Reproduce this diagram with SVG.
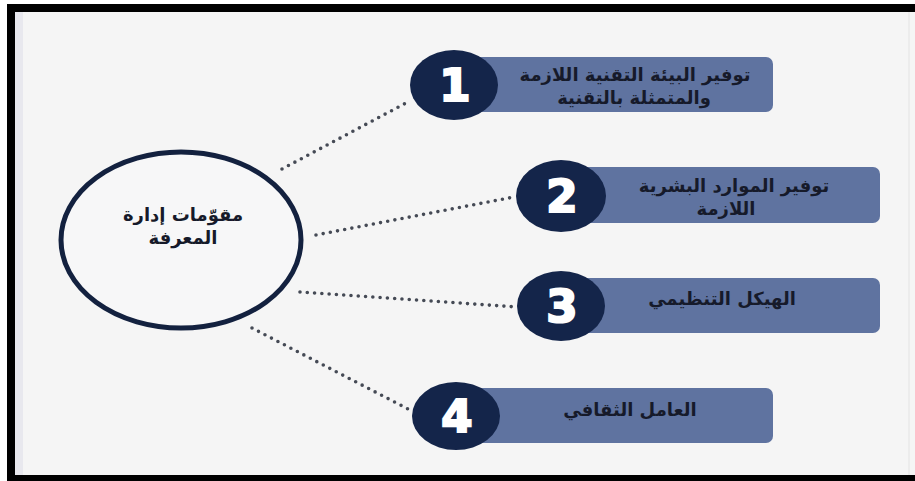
<svg xmlns="http://www.w3.org/2000/svg" width="915" height="481" viewBox="0 0 915 481">
<style>
.badge{fill:#14254a}
.bar{fill:#5f73a0}
.num{font-family:"DejaVu Sans","Liberation Sans",sans-serif;font-weight:900;font-size:45px;fill:#ffffff;stroke:#ffffff;stroke-width:2.2;text-anchor:middle}
.lbl{font-family:"DejaVu Sans",sans-serif;font-weight:bold;font-size:18px;fill:#161a2a;text-anchor:middle;direction:rtl}
.dot{fill:none;stroke:#454a55;stroke-width:3.6;stroke-linecap:round;stroke-dasharray:0 7.3}
</style>
<rect x="0" y="0" width="915" height="481" fill="#ffffff"/>
<rect x="7" y="4" width="908" height="477" fill="#000000"/>
<rect x="15" y="12" width="900" height="463" fill="#f5f5f5"/>
<rect x="15" y="12" width="8" height="463" fill="#e8e8ee"/>
<rect x="908" y="12" width="2" height="463" fill="#ececec"/>
<g id="connectors">
<line class="dot" x1="282" y1="169" x2="406" y2="103"/>
<line class="dot" x1="316" y1="235" x2="514" y2="197"/>
<line class="dot" x1="300" y1="292" x2="517" y2="307"/>
<line class="dot" x1="252" y1="328" x2="410" y2="410"/>
</g>
<g id="center">
<ellipse cx="181" cy="240" rx="120" ry="88" fill="#f7f7f8" stroke="#13213f" stroke-width="5"/>
<text class="lbl" x="183" y="221">مقوّمات إدارة</text>
<text class="lbl" x="183" y="244">المعرفة</text>
</g>
<g id="item1">
<rect class="bar" x="470" y="57" width="303" height="55" rx="7"/>
<ellipse class="badge" cx="454" cy="85" rx="44" ry="35"/>
<text class="num" x="455" y="101">1</text>
<text class="lbl" x="635" y="81">توفير البيئة التقنية اللازمة</text>
<text class="lbl" x="634" y="104">والمتمثلة بالتقنية</text>
</g>
<g id="item2">
<rect class="bar" x="573" y="167" width="307" height="56" rx="7"/>
<ellipse class="badge" cx="561" cy="196" rx="45" ry="36"/>
<text class="num" x="562" y="212">2</text>
<text class="lbl" x="734" y="192">توفير الموارد البشرية</text>
<text class="lbl" x="726" y="215">اللازمة</text>
</g>
<g id="item3">
<rect class="bar" x="573" y="278" width="307" height="55" rx="7"/>
<ellipse class="badge" cx="561" cy="306" rx="44" ry="35"/>
<text class="num" x="562" y="322">3</text>
<text class="lbl" x="722" y="305">الهيكل التنظيمي</text>
</g>
<g id="item4">
<rect class="bar" x="470" y="388" width="303" height="55" rx="7"/>
<ellipse class="badge" cx="456" cy="416" rx="44" ry="34"/>
<text class="num" x="457" y="432">4</text>
<text class="lbl" x="630" y="416">العامل الثقافي</text>
</g>
</svg>
